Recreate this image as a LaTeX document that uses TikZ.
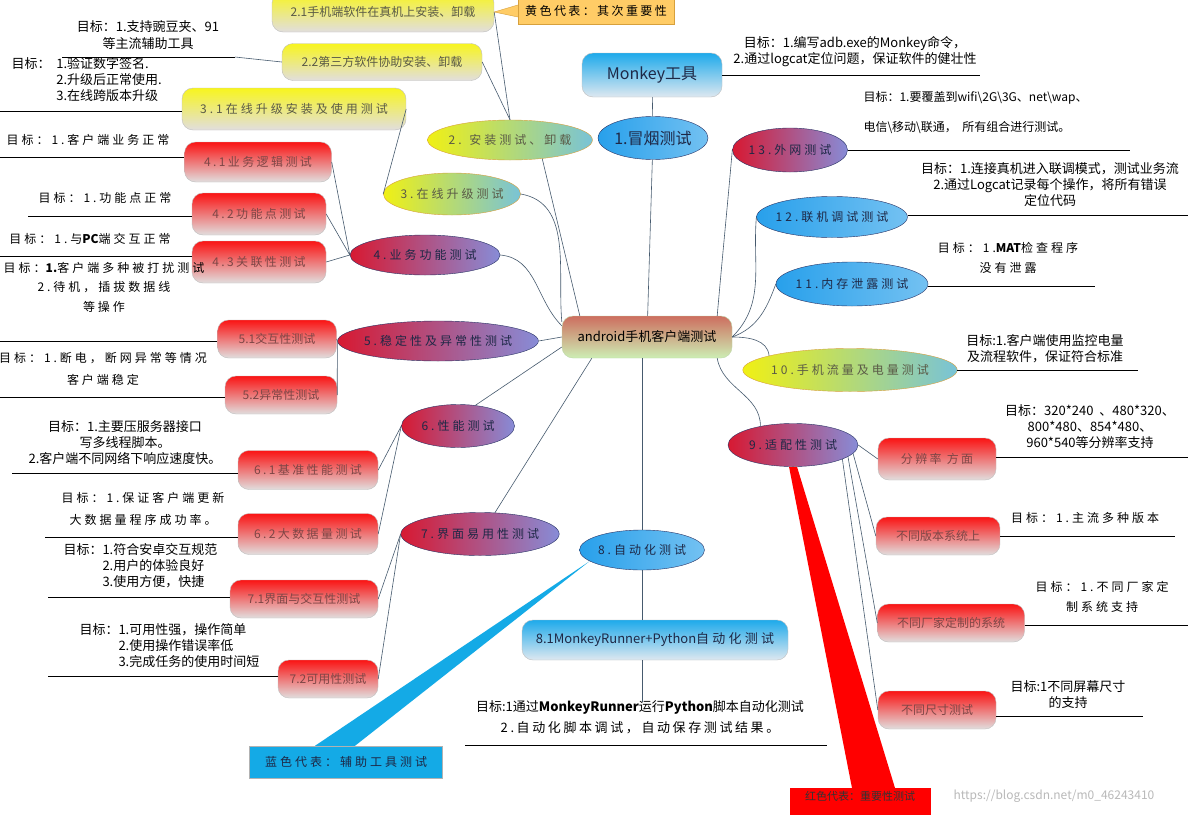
\documentclass[tikz,border=0pt]{standalone}
\usepackage{fontspec}
\setmainfont{Noto Sans CJK SC}
\newfontfamily\spc[LetterSpace=20]{Noto Sans CJK SC}
\newfontfamily\wide[LetterSpace=25]{Noto Sans CJK SC}
\usetikzlibrary{shapes.geometric, positioning, backgrounds}
\definecolor{boxred}{RGB}{250,20,20}
\definecolor{boxgray}{RGB}{225,222,222}
\definecolor{boxyel}{RGB}{248,245,30}
\definecolor{boxblue}{RGB}{30,170,235}
\definecolor{bluelow}{RGB}{222,232,240}
\definecolor{ovred}{RGB}{215,25,50}
\definecolor{ovpurple}{RGB}{135,140,215}
\definecolor{ovyellow}{RGB}{240,240,20}
\definecolor{ovteal}{RGB}{120,195,215}
\definecolor{ovorange}{RGB}{215,160,60}
\definecolor{ovblue}{RGB}{40,160,235}
\definecolor{navyline}{RGB}{40,50,100}
\definecolor{navytext}{RGB}{30,40,70}
\definecolor{redtext}{RGB}{125,70,70}
\definecolor{yeltext}{RGB}{90,90,70}
\definecolor{linkcol}{RGB}{70,90,110}
\definecolor{rootred}{RGB}{205,110,95}
\definecolor{rootgreen}{RGB}{205,238,180}
\definecolor{notebg}{RGB}{255,204,102}
\definecolor{calloutblue}{RGB}{20,170,230}

\begin{document}
\begin{tikzpicture}[x=1pt, y=-1pt,
    box/.style={rectangle, rounded corners=11pt, draw=gray!50, inner sep=2pt, align=center, font=\fontsize{12}{14}\selectfont},
    redbox/.style={box, top color=boxred, bottom color=boxgray, text=redtext},
    yelbox/.style={box, top color=boxyel, bottom color=boxgray, text=yeltext},
    bluebox/.style={box, top color=boxblue, bottom color=bluelow, text=navytext},
    rootbox/.style={box, top color=rootred, bottom color=rootgreen, draw=rootgreen!80!gray, text=black, font=\fontsize{13}{15}\selectfont},
    oval/.style={ellipse, draw=navyline, inner xsep=-3pt, inner ysep=1pt, align=center, text=navytext, font=\fontsize{12}{14}\selectfont\wide},
    redoval/.style={oval, left color=ovred, right color=ovpurple},
    yeloval/.style={oval, left color=ovyellow, right color=ovteal, draw=ovorange, text=yeltext},
    blueoval/.style={oval, left color=ovblue, right color=ovblue!65!white},
    note/.style={rectangle, draw=gray!60, align=center, font=\fontsize{12}{14}\selectfont\wide},
    goal/.style={align=center, font=\fontsize{13}{16}\selectfont},
    link/.style={draw=linkcol, line width=0.6pt},
    uline/.style={draw=black, line width=0.9pt}
]
    \useasboundingbox (0,0) rectangle (1188,814);

    % centre and tool branch
    \node[rootbox, minimum width=170, minimum height=42] (root) at (647,337) {android手机客户端测试};
    \node[bluebox, minimum width=140, minimum height=44, font=\fontsize{16}{18}\selectfont] (monkey) at (652,75) {Monkey工具};
    \node[blueoval, minimum width=110, minimum height=43, font=\fontsize{16}{18}\selectfont] (smoke) at (653,138) {1.冒烟测试};

    % yellow branches
    \node[yeloval, minimum width=160, minimum height=40] (inst) at (510,140) {2. 安装测试、卸载};
    \node[yelbox, minimum width=222, minimum height=40] (b21) at (383,12) {2.1手机端软件在真机上安装、卸载};
    \node[yelbox, minimum width=200, minimum height=37] (b22) at (382,62) {2.2第三方软件协助安装、卸载};
    \node[yelbox, minimum width=224, minimum height=42, font=\fontsize{12}{14}\selectfont\wide] (b31) at (294,109) {3.1在线升级安装及使用测试};
    \node[yeloval, minimum width=130, minimum height=42] (upg) at (452,194) {3.在线升级测试};
    \node[yeloval, minimum width=196, minimum height=43] (ell10) at (850,370) {10.手机流量及电量测试};

    % red branches, left
    \node[redoval, minimum width=150, minimum height=40] (ell4) at (425,255) {4.业务功能测试};
    \node[redbox, minimum width=147, minimum height=40, font=\fontsize{12}{14}\selectfont\spc] (b41) at (258,162) {4.1业务逻辑测试};
    \node[redbox, minimum width=134, minimum height=42, font=\fontsize{12}{14}\selectfont\spc] (b42) at (259,214) {4.2功能点测试};
    \node[redbox, minimum width=134, minimum height=42, font=\fontsize{12}{14}\selectfont\spc] (b43) at (259,262) {4.3关联性测试};
    \node[redoval, minimum width=190, minimum height=40] (ell5) at (438,341) {5.稳定性及异常性测试};
    \node[redbox, minimum width=119, minimum height=38] (b51) at (277,339) {5.1交互性测试};
    \node[redbox, minimum width=112, minimum height=38] (b52) at (281,395) {5.2异常性测试};
    \node[redoval, minimum width=113, minimum height=43] (ell6) at (458,426) {6.性能测试};
    \node[redbox, minimum width=140, minimum height=39, font=\fontsize{12}{14}\selectfont\spc] (b61) at (308,470) {6.1基准性能测试};
    \node[redbox, minimum width=140, minimum height=41, font=\fontsize{12}{14}\selectfont\spc] (b62) at (308,534) {6.2大数据量测试};
    \node[redoval, minimum width=150, minimum height=43] (ell7) at (480,534) {7.界面易用性测试};
    \node[redbox, minimum width=148, minimum height=38] (b71) at (304,599) {7.1界面与交互性测试};
    \node[redbox, minimum width=100, minimum height=38] (b72) at (328,679) {7.2可用性测试};

    % blue branches
    \node[blueoval, minimum width=125, minimum height=40] (ell8) at (642,550) {8.自动化测试};
    \node[bluebox, minimum width=266, minimum height=40, font=\fontsize{13}{15}\selectfont] (b81) at (655,640) {8.1MonkeyRunner+Python{\wide 自动化测试}};
    \node[redoval, minimum width=115, minimum height=44] (ell13) at (790,150) {13.外网测试};
    \node[blueoval, minimum width=150, minimum height=41] (ell12) at (832,217) {12.联机调试测试};
    \node[blueoval, minimum width=152, minimum height=44] (ell11) at (852,284) {11.内存泄露测试};

    % red branches, right
    \node[redoval, minimum width=130, minimum height=43] (ell9) at (793,445) {9.适配性测试};
    \node[redbox, minimum width=118, minimum height=42, font=\fontsize{12}{14}\selectfont\spc] (b91) at (937,459) {分辨率\ 方面};
    \node[redbox, minimum width=124, minimum height=38] (b92) at (938,536) {不同版本系统上};
    \node[redbox, minimum width=147, minimum height=38] (b93) at (951,623) {不同厂家定制的系统};
    \node[redbox, minimum width=118, minimum height=38] (b94) at (937,710) {不同尺寸测试};

    % legend notes
    \node[note, fill=notebg, draw=ovorange, minimum width=156, minimum height=27, font=\fontsize{12}{14}\selectfont\spc] (ynote) at (596,11) {黄色代表：其次重要性};
    \node[note, fill=calloutblue, minimum width=193, minimum height=32, text=navytext] (bnote) at (346,762) {蓝色代表：辅助工具测试};
    \node[note, fill=red, draw=red, minimum width=140, minimum height=34, anchor=north, font=\fontsize{11}{13}\selectfont, text=black!80] (rnote) at (860,788) {红色代表：重要性测试\\[6pt]};
    \node[font=\fontsize{12}{14}\selectfont, text=gray!55] (wmark) at (1054,796) {https://blog.csdn.net/m0\_46243410};

    % goal texts
    \node[goal] (tmonkey) at (855,52) {目标：1.编写adb.exe的Monkey命令，\\2.通过logcat定位问题，保证软件的健壮性};
    \node[goal, align=left, anchor=west, font=\fontsize{12}{30}\selectfont] (t13) at (860,113) {目标：1.要覆盖到wifi\textbackslash 2G\textbackslash 3G、net\textbackslash wap、\\电信\textbackslash 移动\textbackslash 联通，\ \ 所有组合进行测试。};
    \node[goal] (t12) at (1050,185) {目标：1.连接真机进入联调模式，测试业务流\\2.通过Logcat记录每个操作，将所有错误\\定位代码};
    \node[goal, font=\fontsize{12}{20}\selectfont\wide] (t11) at (1008,258) {目标：1.{\rmfamily\bfseries MAT}检查程序\\没有泄露};
    \node[goal] (t10) at (1045,349) {目标:1.客户端使用监控电量\\及流程软件，保证符合标准};
    \node[goal] (t91) at (1090,427) {目标：320*240 \ 、480*320、\\800*480、854*480、\\960*540等分辨率支持};
    \node[goal, font=\fontsize{12}{14}\selectfont\wide] (t92) at (1085,518) {目标：1.主流多种版本};
    \node[goal, font=\fontsize{12}{20}\selectfont\wide] (t93) at (1102,597) {目标：1.不同厂家定\\制系统支持};
    \node[goal] (t94) at (1068,695) {目标:1不同屏幕尺寸\\的支持};
    \node[goal, font=\fontsize{13}{21}\selectfont] (t81) at (640,717) {目标:1通过\textbf{MonkeyRunner}运行\textbf{Python}脚本自动化测试\\{\spc 2.自动化脚本调试，自动保存测试结果。}};
    \node[goal, font=\fontsize{13}{17}\selectfont] (t22) at (148,35) {目标：1.支持豌豆夹、91\\等主流辅助工具};
    \node[goal, anchor=west] (t31) at (8,81) {\begin{tabular}{@{}l@{\ \ }l@{}}目标：&1.验证数字签名.\\&2.升级后正常使用.\\&3.在线跨版本升级\end{tabular}};
    \node[goal, font=\fontsize{12}{14}\selectfont\wide] (t41) at (88,140) {目标：1.客户端业务正常};
    \node[goal, font=\fontsize{12}{14}\selectfont\wide] (t42) at (105,198) {目标：1.功能点正常};
    \node[goal, font=\fontsize{12}{14}\selectfont\wide] (t43) at (90,239) {目标：1.与{\rmfamily\bfseries PC}端交互正常};
    \node[goal, font=\fontsize{12}{19.5}\selectfont\wide] (t51) at (104,287) {目标：{\rmfamily\bfseries 1.}客户端多种被打扰测试\\2.待机，插拔数据线\\等操作};
    \node[goal, font=\fontsize{12}{22}\selectfont\wide] (t52) at (103,369) {目标：1.断电，断网异常等情况\\客户端稳定};
    \node[goal] (t61) at (125,443) {目标：1.主要压服务器接口\\写多线程脚本。\\2.客户端不同网络下响应速度快。};
    \node[goal, font=\fontsize{12}{22}\selectfont\wide] (t62) at (143,509) {目标：1.保证客户端更新\\大数据量程序成功率。};
    \node[goal, anchor=west] (t71) at (60,567) {\begin{tabular}{@{}l@{}l@{}}目标：&1.符合安卓交互规范\\&2.用户的体验良好\\&3.使用方便，快捷\end{tabular}};
    \node[goal, anchor=west] (t72) at (76,647) {\begin{tabular}{@{}l@{}l@{}}目标：&1.可用性强，操作简单\\&2.使用操作错误率低\\&3.完成任务的使用时间短\end{tabular}};

    % underline ends
    \coordinate (umonkey) at (980,75);
    \coordinate (u13) at (1130,150);
    \coordinate (u12) at (1188,215);
    \coordinate (u11) at (1095,286);
    \coordinate (u10) at (1138,370);
    \coordinate (u91) at (1188,457);
    \coordinate (u92) at (1175,536);
    \coordinate (u93) at (1188,625);
    \coordinate (u94) at (1143,716);
    \coordinate (u81a) at (465,745);
    \coordinate (u81b) at (827,745);
    \coordinate (d81) at (642,702);
    \coordinate (u22a) at (62,57);
    \coordinate (u22b) at (235,57);
    \coordinate (u31) at (0,111);
    \coordinate (u41) at (0,157);
    \coordinate (u42) at (28,216);
    \coordinate (u43) at (0,256);
    \coordinate (u51) at (0,341);
    \coordinate (u52) at (0,397);
    \coordinate (u61) at (12,473);
    \coordinate (u62) at (45,537);
    \coordinate (u71) at (48,597);
    \coordinate (u72) at (48,676);

    \draw[uline] (monkey.east) -- (umonkey);
    \draw[uline] (u13 -| ell13.east) -- (u13);
    \draw[uline] (u12 -| ell12.east) -- (u12);
    \draw[uline] (u11 -| ell11.east) -- (u11);
    \draw[uline] (u10 -| ell10.east) -- (u10);
    \draw[uline] (u91 -| b91.east) -- (u91);
    \draw[uline] (u92 -| b92.east) -- (u92);
    \draw[uline] (u93 -| b93.east) -- (u93);
    \draw[uline] (u94 -| b94.east) -- (u94);
    \draw[uline] (u81a) -- (u81b);
    \draw[uline] (u22a) -- (u22b);
    \draw[uline] (u31) -- (u31 -| b31.west);
    \draw[uline] (u41) -- (u41 -| b41.west);
    \draw[uline] (u42) -- (u42 -| b42.west);
    \draw[uline] (u43) -- (u43 -| b43.west);
    \draw[uline] (u51) -- (u51 -| b51.west);
    \draw[uline] (u52) -- (u52 -| b52.west);
    \draw[uline] (u61) -- (u61 -| b61.west);
    \draw[uline] (u62) -- (u62 -| b62.west);
    \draw[uline] (u71) -- (u71 -| b71.west);
    \draw[uline] (u72) -- (u72 -| b72.west);

    % links
    \draw[link] (monkey) -- (smoke);
    \draw[link] (smoke) -- (root);
    \draw[link] (b21.east) -- (inst.north);
    \draw[link] (b22.east) -- (inst.north);
    \draw[link] (u22b) -- (b22.west);
    \draw[link] (inst.-30) -- ([xshift=18pt]root.north west);
    \draw[link] (b31.east) -- (upg.west);
    \draw[link] (upg.east) to[out=-10,in=95] ([yshift=-6pt]root.north west);
    \draw[link] (b41.east) -- (ell4.west);
    \draw[link] (b42.east) -- (ell4.west);
    \draw[link] (b43.east) -- (ell4.west);
    \draw[link] (ell4.east) to[out=-5,in=135] ([yshift=-10pt]root.north west);
    \draw[link] (b51.east) -- (ell5.west);
    \draw[link] (b52.east) -- (ell5.west);
    \draw[link] (ell5.east) -- (root.west);
    \draw[link] (b61.east) -- (ell6.west);
    \draw[link] (b62.east) -- (ell6.west);
    \draw[link] (ell6.50) -- ([yshift=-10pt]root.west);
    \draw[link] (b71.east) -- (ell7.west);
    \draw[link] (b72.east) -- (ell7.west);
    \draw[link] (ell7.55) -- ([xshift=30pt]root.south west);
    \draw[link] (root.south -| ell8) -- (ell8);
    \draw[link] (ell8) -- (ell8 |- b81.north);
    \draw[link] (ell8 |- b81.south) -- (d81);
    \draw[link] ([xshift=-15pt]root.north east) to[out=85,in=-95] (ell13.west);
    \draw[link] (root.east) to[out=45,in=-95] (ell12.west);
    \draw[link] (root.east) to[out=20,in=-110] (ell11.west);
    \draw[link] (root.east) to[out=0,in=95] (ell10.170);
    \draw[link] ([xshift=-15pt]root.south east) to[out=-80,in=90] (ell9.150);
    \draw[link] (ell9.east) -- (b91.west);
    \draw[link] (ell9.-8) -- (b92.west);
    \draw[link] (ell9.-12) -- (b93.west);
    \draw[link] (ell9.-16) -- (b94.west);

    % callout pointers
    \fill[notebg] ([yshift=6pt]ynote.west) -- (b21.east) -- ([yshift=-6pt]ynote.west) -- cycle;
    \draw[ovorange] ([yshift=6pt]ynote.west) -- (b21.east) -- ([yshift=-6pt]ynote.west);
    \begin{scope}[on background layer]
        \fill[white] (0,0) rectangle (1188,814);
        \fill[calloutblue] (ell8.192) -- ([xshift=-31pt]bnote.north) -- ([xshift=9pt]bnote.north) -- cycle;
        \fill[red] ([xshift=-4pt]ell9.south) -- ([xshift=4pt]ell9.south) -- ([xshift=35pt]rnote.north) -- ([xshift=-8pt]rnote.north) -- cycle;
    \end{scope}
\end{tikzpicture}
\end{document}
